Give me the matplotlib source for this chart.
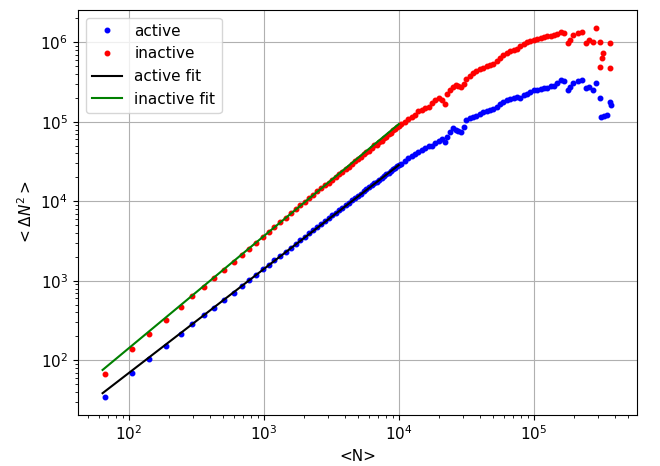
import matplotlib
matplotlib.use("Agg")
import matplotlib.pyplot as plt
import numpy as np

# <N> values (shared for the fitted range)
n_low = [67, 106, 141, 188, 243, 296, 361, 426, 509, 597,
         688, 778, 873, 980, 1090, 1200, 1320, 1450, 1580, 1720,
         1860, 2010, 2160, 2320, 2490, 2660, 2840, 3020, 3210, 3410,
         3610, 3820, 4040, 4260, 4490, 4730, 4970, 5220, 5480, 5740,
         6010, 6290, 6570, 6860, 7160, 7460, 7770, 8090, 8410, 8740,
         9080, 9420, 9770, 10100]
n_high = [10470, 11090, 11750, 12450, 13180, 13960, 14790, 15670, 16600, 17580,
          18620, 19720, 20890, 21880, 22910, 23990, 25120, 26300, 27540, 28840,
          30200, 31620, 33500, 35480, 37580, 39810, 42170, 44670, 47320, 50120,
          53090, 56230, 59570, 63100, 66830, 70790, 74990, 79430, 84140, 89130,
          94410, 100000, 105900, 112200, 118900, 125900, 133400, 141300, 149600, 158500,
          166000, 179900, 184900, 195900, 213800, 225900, 245500, 257000, 275400, 291100,
          308300]
n_active_tail = [317000, 331100, 345900, 365600, 375800]
n_inactive_tail = [308300, 320600, 325800, 365600, 365600]

# <dN^2> active
v_active_low = [35, 70, 104, 153, 214, 284, 372, 451, 573, 697,
                870, 1020, 1190, 1390, 1600, 1820, 2070, 2330, 2620, 2930,
                3250, 3590, 3950, 4330, 4760, 5190, 5640, 6120, 6640, 7180,
                7740, 8310, 8940, 9570, 10250, 10980, 11700, 12500, 13300, 14100,
                14950, 15900, 16800, 17700, 18700, 19700, 20700, 21800, 23000, 24200,
                25400, 26500, 27700, 28700]
v_active_high = [29510, 32360, 34670, 37150, 39810, 42170, 43650, 47320, 48980, 50120,
                 54330, 57540, 61660, 56230, 64570, 74130, 83180, 79430, 77620, 74990,
                 85110, 104700, 112200, 114800, 118900, 125900, 131800, 136500, 141300, 146200,
                 154900, 167900, 177800, 186200, 195000, 199500, 204200, 199500, 218800, 226500,
                 234400, 248300, 251200, 257000, 263000, 269200, 281800, 285100, 309000, 338800,
                 323600, 251200, 275400, 304800, 323600, 335700, 263600, 275400, 251200, 304800,
                 197700]
v_active_tail = [115900, 117500, 121600, 179100, 162600]

# <dN^2> inactive
v_inactive_low = [67, 137, 215, 322, 472, 644, 844, 1074, 1380, 1730,
                  2140, 2540, 3000, 3530, 4140, 4760, 5460, 6200, 7040, 7910,
                  8870, 9850, 10900, 12100, 13380, 14700, 16150, 16900, 18500, 20100,
                  21800, 23600, 25600, 27400, 29700, 31800, 34100, 36600, 39200, 41900,
                  43500, 46400, 50500, 51100, 55700, 57700, 62400, 64600, 69900, 72200,
                  77900, 81900, 86400, 89400]
v_inactive_high = [94410, 100000, 107200, 114800, 123000, 134900, 141300, 147900, 154900, 173800,
                   188400, 199500, 190500, 169800, 223900, 251200, 275400, 291700, 281800, 275400,
                   302000, 346700, 380200, 416900, 441600, 457100, 478600, 501200, 512900, 537000,
                   582100, 631000, 683900, 741300, 776200, 803500, 822200, 891300, 955000, 1000000,
                   1047000, 1084000, 1109000, 1135000, 1175000, 1202000, 1216000, 1230000, 1288000, 1349000,
                   1318000, 977200, 1072000, 1236000, 1318000, 1358000, 977200, 1072000, 1019000, 1500000,
                   995400]
v_inactive_tail = [493200, 629500, 727800, 977200, 471000]

# power-law fits: log10(V) = slope*log10(N) + intercept
active_fit = (1.308, -0.776)
inactive_fit = (1.41, -0.668)
fit_range = (64, 10000)

n_active = np.array(n_low + n_high + n_active_tail)
v_active = np.array(v_active_low + v_active_high + v_active_tail)
n_inactive = np.array(n_low + n_high + n_inactive_tail)
v_inactive = np.array(v_inactive_low + v_inactive_high + v_inactive_tail)

plt.rcParams['font.size'] = 11
fig = plt.figure(figsize=(6.6, 4.66), dpi=100)
ax = fig.add_axes([0.118, 0.1094, 0.847, 0.8691])

ax.plot(n_active, v_active, '.', color='blue', markersize=6.5, label='active')
ax.plot(n_inactive, v_inactive, '.', color='red', markersize=6.5, label='inactive')

nf = np.logspace(np.log10(fit_range[0]), np.log10(fit_range[1]), 50)
ax.plot(nf, 10 ** (active_fit[0] * np.log10(nf) + active_fit[1]), color='black', lw=1.5, label='active fit')
ax.plot(nf, 10 ** (inactive_fit[0] * np.log10(nf) + inactive_fit[1]), color='green', lw=1.5, label='inactive fit')

ax.set_xscale('log')
ax.set_yscale('log')
ax.set_xlim(42, 5.8e5)
ax.set_ylim(20.5, 2.55e6)
ax.grid(True, which='major', color='#b0b0b0', lw=0.8)
ax.set_xlabel('<N>')
ax.set_ylabel(r'$<\Delta N^2>$')
ax.legend(loc='upper left', numpoints=1)

fig.savefig('out.png', dpi=100)
